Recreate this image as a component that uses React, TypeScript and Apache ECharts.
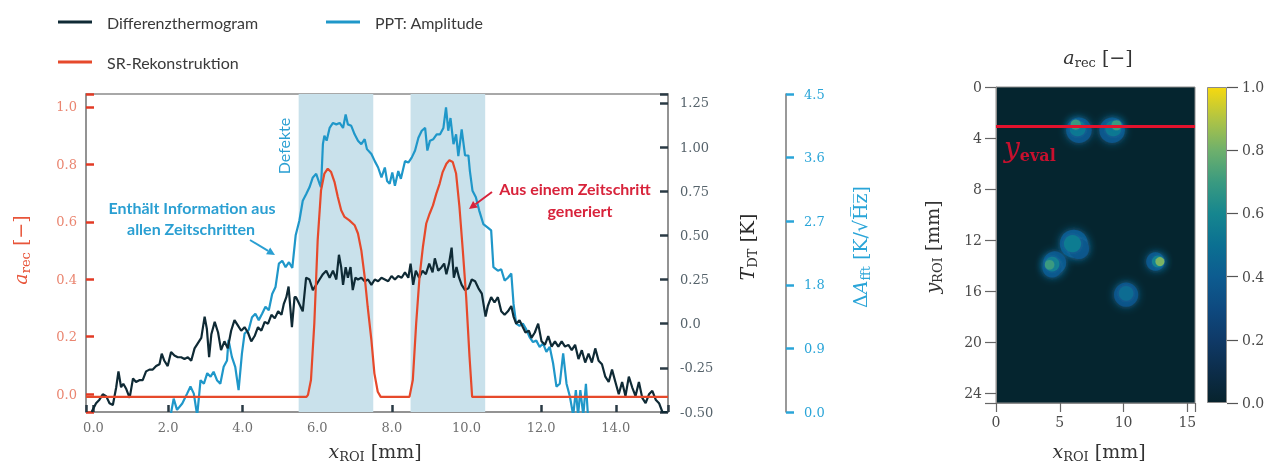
import React, { useEffect, useRef } from 'react';
import * as echarts from 'echarts';

// ---------- Data ----------
// Differenzthermogram (T_DT [K])
const dtX = [-0.05, 0.07, 0.16, 0.25, 0.34, 0.43, 0.52, 0.61, 0.67, 0.74, 0.80, 0.88, 0.97, 1.06, 1.14, 1.23, 1.32, 1.41, 1.50, 1.59, 1.68, 1.77, 1.83, 1.90, 1.99, 2.08, 2.17, 2.26, 2.35, 2.44, 2.53, 2.62, 2.71, 2.80, 2.89, 2.98, 3.04, 3.10, 3.16, 3.25, 3.34, 3.42, 3.51, 3.60, 3.69, 3.78, 3.87, 3.96, 4.05, 4.14, 4.23, 4.32, 4.41, 4.50, 4.59, 4.68, 4.77, 4.86, 4.95, 5.04, 5.10, 5.17, 5.23, 5.32, 5.39, 5.43, 5.52, 5.61, 5.70, 5.79, 5.88, 5.97, 6.06, 6.15, 6.24, 6.33, 6.42, 6.51, 6.58, 6.64, 6.69, 6.76, 6.82, 6.89, 6.95, 7.02, 7.09, 7.18, 7.27, 7.36, 7.45, 7.54, 7.63, 7.72, 7.81, 7.90, 7.99, 8.08, 8.17, 8.26, 8.35, 8.44, 8.50, 8.57, 8.64, 8.73, 8.82, 8.91, 9.00, 9.09, 9.15, 9.24, 9.33, 9.40, 9.46, 9.53, 9.60, 9.66, 9.73, 9.80, 9.87, 9.96, 10.05, 10.14, 10.23, 10.32, 10.41, 10.51, 10.57, 10.66, 10.75, 10.84, 10.93, 11.02, 11.11, 11.20, 11.26, 11.33, 11.42, 11.51, 11.58, 11.67, 11.74, 11.83, 11.92, 12.01, 12.10, 12.19, 12.28, 12.37, 12.46, 12.55, 12.64, 12.73, 12.82, 12.91, 13.00, 13.09, 13.18, 13.27, 13.36, 13.45, 13.54, 13.63, 13.72, 13.81, 13.90, 13.99, 14.08, 14.17, 14.26, 14.35, 14.44, 14.53, 14.62, 14.71, 14.80, 14.89, 14.98, 15.07, 15.16, 15.25, 15.38];
const dtY = [-0.50, -0.45, -0.43, -0.40, -0.41, -0.45, -0.46, -0.36, -0.27, -0.36, -0.34, -0.37, -0.42, -0.31, -0.33, -0.32, -0.32, -0.27, -0.26, -0.26, -0.24, -0.23, -0.17, -0.21, -0.24, -0.16, -0.18, -0.19, -0.19, -0.20, -0.19, -0.21, -0.14, -0.11, -0.08, 0.04, -0.03, -0.19, -0.06, 0.01, -0.05, -0.15, -0.10, -0.14, -0.04, 0.02, -0.01, -0.04, -0.02, -0.05, -0.10, -0.07, -0.02, -0.04, 0.01, 0.00, 0.05, 0.03, 0.07, 0.05, 0.11, 0.15, 0.21, -0.02, 0.15, 0.15, 0.11, 0.07, 0.26, 0.25, 0.19, 0.22, 0.25, 0.28, 0.30, 0.26, 0.30, 0.25, 0.39, 0.32, 0.22, 0.32, 0.26, 0.32, 0.19, 0.26, 0.25, 0.26, 0.24, 0.25, 0.22, 0.25, 0.24, 0.26, 0.25, 0.24, 0.27, 0.25, 0.27, 0.26, 0.29, 0.26, 0.34, 0.22, 0.30, 0.26, 0.30, 0.28, 0.34, 0.29, 0.37, 0.30, 0.32, 0.34, 0.28, 0.34, 0.43, 0.26, 0.32, 0.26, 0.22, 0.19, 0.20, 0.25, 0.24, 0.20, 0.17, 0.04, 0.10, 0.15, 0.12, 0.15, 0.07, 0.05, 0.07, 0.10, 0.04, 0.00, 0.02, -0.02, -0.05, -0.04, -0.08, -0.05, 0.00, -0.10, -0.12, -0.07, -0.13, -0.10, -0.13, -0.10, -0.13, -0.12, -0.15, -0.12, -0.20, -0.15, -0.22, -0.17, -0.22, -0.14, -0.21, -0.23, -0.30, -0.33, -0.26, -0.33, -0.40, -0.33, -0.41, -0.30, -0.36, -0.41, -0.33, -0.42, -0.45, -0.40, -0.38, -0.43, -0.45, -0.50, -0.50];

// PPT: Amplitude (ΔA_fft [K/√Hz])
const pptX = [2.05, 2.15, 2.24, 2.38, 2.51, 2.60, 2.69, 2.78, 2.87, 2.96, 3.05, 3.14, 3.22, 3.31, 3.40, 3.49, 3.58, 3.62, 3.71, 3.80, 3.89, 3.98, 4.05, 4.16, 4.25, 4.34, 4.43, 4.52, 4.61, 4.70, 4.79, 4.88, 4.97, 5.06, 5.15, 5.24, 5.33, 5.42, 5.52, 5.61, 5.70, 5.79, 5.88, 5.97, 6.06, 6.10, 6.15, 6.19, 6.25, 6.33, 6.42, 6.51, 6.60, 6.69, 6.76, 6.82, 6.91, 7.00, 7.09, 7.18, 7.27, 7.33, 7.45, 7.54, 7.63, 7.72, 7.81, 7.87, 7.94, 8.01, 8.08, 8.17, 8.24, 8.35, 8.44, 8.53, 8.62, 8.71, 8.80, 8.89, 8.95, 9.02, 9.11, 9.20, 9.29, 9.38, 9.45, 9.51, 9.57, 9.65, 9.72, 9.78, 9.87, 9.96, 10.05, 10.09, 10.16, 10.25, 10.34, 10.45, 10.57, 10.66, 10.72, 10.84, 10.93, 11.02, 11.11, 11.20, 11.26, 11.33, 11.42, 11.51, 11.60, 11.69, 11.78, 11.87, 11.96, 12.05, 12.14, 12.23, 12.32, 12.41, 12.50, 12.59, 12.68, 12.77, 12.86, 12.93, 12.99, 13.05, 13.13, 13.20, 13.26];
const pptY = [-0.10, 0.19, 0.03, 0.12, 0.26, 0.36, 0.26, -0.05, 0.45, 0.40, 0.55, 0.50, 0.57, 0.45, 0.40, 0.64, 0.73, 1.02, 0.78, 0.64, 0.31, 0.83, 1.11, 1.16, 1.34, 1.39, 1.30, 1.39, 1.49, 1.44, 1.67, 1.77, 2.10, 2.14, 2.05, 2.12, 2.04, 2.50, 2.71, 2.99, 3.08, 3.18, 3.32, 3.37, 3.23, 3.18, 3.79, 3.91, 3.84, 4.02, 4.09, 4.07, 4.09, 4.02, 4.21, 4.07, 4.05, 3.93, 3.84, 3.79, 3.86, 3.72, 3.65, 3.55, 3.46, 3.32, 3.46, 3.27, 3.23, 3.39, 3.20, 3.41, 3.30, 3.55, 3.53, 3.60, 3.70, 3.88, 3.98, 4.02, 3.70, 3.84, 3.86, 3.93, 3.93, 4.02, 4.31, 3.98, 4.16, 3.79, 3.93, 3.62, 4.00, 3.63, 3.63, 3.41, 3.13, 3.04, 2.85, 2.66, 2.61, 2.57, 2.05, 2.00, 2.02, 1.86, 1.90, 1.96, 1.53, 1.25, 1.22, 1.25, 1.17, 1.06, 0.99, 1.01, 0.92, 0.97, 0.85, 0.92, 0.69, 0.36, 0.40, 0.83, 0.40, 0.22, -0.05, 0.31, -0.05, 0.31, -0.05, 0.40, -0.10];

// SR-Rekonstruktion (a_rec [−])
const srX = [-0.2, 5.71, 5.75, 5.83, 5.92, 6.01, 6.10, 6.19, 6.28, 6.37, 6.46, 6.55, 6.64, 6.73, 6.86, 7.00, 7.09, 7.18, 7.27, 7.35, 7.45, 7.53, 7.62, 7.70, 8.47, 8.56, 8.65, 8.74, 8.83, 8.92, 9.01, 9.10, 9.19, 9.28, 9.36, 9.46, 9.54, 9.63, 9.72, 9.81, 9.90, 9.99, 10.08, 10.15, 15.4];
const srY = [-0.01, -0.01, -0.003, 0.049, 0.246, 0.536, 0.71, 0.768, 0.785, 0.773, 0.739, 0.686, 0.64, 0.617, 0.605, 0.588, 0.559, 0.50, 0.408, 0.304, 0.188, 0.072, 0.008, -0.01, -0.01, 0.049, 0.246, 0.408, 0.512, 0.594, 0.628, 0.657, 0.698, 0.733, 0.773, 0.802, 0.814, 0.808, 0.768, 0.652, 0.50, 0.338, 0.13, -0.01, -0.01];

// Defect regions (x_ROI [mm])
const defectStart = [5.5, 8.5];
const defectEnd = [7.5, 10.5];

// Reconstruction map: blobs (x mm, y mm, a_rec value, diameter mm)
const blobX = [6.5, 9.1, 6.1, 6.5, 4.6, 4.4, 12.5, 10.2, 6.4, 9.2, 6.0, 4.4, 12.7, 10.2, 6.25, 9.45, 4.2, 12.85];
const blobY = [3.4, 3.4, 12.3, 12.7, 13.8, 14.2, 13.7, 16.3, 3.25, 3.25, 12.3, 13.9, 13.7, 16.2, 2.95, 3.0, 13.95, 13.7];
const blobV = [0.36, 0.36, 0.38, 0.36, 0.36, 0.36, 0.36, 0.34, 0.54, 0.54, 0.55, 0.58, 0.6, 0.48, 0.7, 0.7, 0.7, 0.82];
const blobD = [2.0, 2.0, 2.2, 1.6, 1.8, 1.5, 1.45, 1.9, 1.25, 1.25, 1.35, 1.15, 0.95, 1.15, 0.8, 0.8, 0.75, 0.7];
const yEval = 3.1;

// Colormap
const cmapStops = [0, 0.1, 0.2, 0.3, 0.4, 0.5, 0.6, 0.7, 0.8, 0.9, 1.0];
const cmapColors = ['#07232d', '#0c2d4a', '#0f3a68', '#0e4a80', '#0d5c90', '#0b7092', '#16868f', '#3a9a80', '#6eb06c', '#b0c444', '#f6d90f'];

// Colors
const C_DT = '#0f2a35';
const C_PPT = '#1f97c9';
const C_SR = '#e6492b';
const C_DEF = '#c9e1eb';
const C_BLUE_TXT = '#2a9fd2';
const C_RED_TXT = '#d8233b';
const SERIF = "'DejaVu Serif', serif";
const SANS = "Lato, 'Open Sans', sans-serif";

const isMult = (v: number, step: number) => Math.abs(v / step - Math.round(v / step)) < 1e-6;

function arrow(x1: number, y1: number, x2: number, y2: number, color: string) {
  const dx = x2 - x1, dy = y2 - y1;
  const L = Math.sqrt(dx * dx + dy * dy);
  const ux = dx / L, uy = dy / L;
  const hl = 8, hw = 4;
  const bx = x2 - ux * hl, by = y2 - uy * hl;
  return [
    { type: 'line', silent: true, z: 100, shape: { x1, y1, x2: bx, y2: by }, style: { stroke: color, lineWidth: 2 } },
    { type: 'polygon', silent: true, z: 100, shape: { points: [[x2, y2], [bx - uy * hw, by + ux * hw], [bx + uy * hw, by - ux * hw]] }, style: { fill: color } },
  ];
}

function rtext(x: number, y: number, text: string, rich: any, rotation = 0, align = 'center') {
  return { type: 'text', silent: true, z: 100, x, y, rotation, style: { text, rich, align, verticalAlign: 'middle' } };
}

function axisRich(color: string, main = 19, sub = 13) {
  return {
    i: { fontFamily: SERIF, fontStyle: 'italic', fontSize: main, lineHeight: 24, fill: color, verticalAlign: 'middle' },
    s: { fontFamily: SERIF, fontSize: sub, lineHeight: 13, fill: color, verticalAlign: 'bottom' },
    n: { fontFamily: SERIF, fontSize: main, lineHeight: 24, fill: color, verticalAlign: 'middle' },
  };
}

function plainText(x: number, y: number, text: string, font: string, fill: string, rotation = 0) {
  return { type: 'text', silent: true, z: 100, x, y, rotation, style: { text, font, fill, align: 'center', verticalAlign: 'middle' } };
}

export default function App() {
  const ref = useRef<HTMLDivElement>(null);
  useEffect(() => {
    const chart = echarts.init(ref.current!, null, { renderer: 'svg' });
    const mmPx = 316 / 24.8;
    const grad = new echarts.graphic.LinearGradient(0, 1, 0, 0, cmapStops.map((s, i) => ({ offset: s, color: cmapColors[i] })));
    const legendText = { fontFamily: SANS, fontSize: 16, color: '#3a3a3a', padding: [0, 0, 0, 10] };
    const legendCommon = { icon: 'rect', itemWidth: 34, itemHeight: 3, selectedMode: false, textStyle: legendText };

    const option: any = {
      animation: false,
      textStyle: { fontFamily: SERIF },
      legend: [
        { ...legendCommon, data: ['Differenzthermogram'], left: 53, top: 9 },
        { ...legendCommon, data: ['PPT: Amplitude'], left: 321, top: 9 },
        { ...legendCommon, data: ['SR-Rekonstruktion'], left: 53, top: 49 },
      ],
      grid: [
        { left: 86, top: 94, width: 582, height: 318, show: true, borderColor: '#8c8c8c', borderWidth: 1.5, backgroundColor: 'transparent' },
        { left: 996, top: 87, width: 199, height: 316, show: true, borderColor: '#8c8c8c', borderWidth: 1, backgroundColor: '#05252f' },
        { left: 1207, top: 87, width: 20, height: 316 },
      ],
      xAxis: [
        {
          type: 'value', gridIndex: 0, min: -0.2, max: 15.4, splitNumber: 8,
          axisLine: { show: true, onZero: false, lineStyle: { color: '#8c8c8c', width: 1.5 } },
          axisTick: { show: true, inside: true, length: 7, lineStyle: { color: '#2a3a44', width: 2.5 } },
          axisLabel: { margin: 9, color: '#707070', fontSize: 13, fontFamily: SERIF, formatter: (v: number) => (isMult(v, 2) ? v.toFixed(1) : '') },
          splitLine: { show: false },
        },
        {
          type: 'value', gridIndex: 1, min: 0, max: 15.6, interval: 5,
          axisLine: { show: true, onZero: false, lineStyle: { color: '#8c8c8c', width: 1 } },
          axisTick: { show: true, inside: false, length: 9, lineStyle: { color: '#666', width: 1.2 } },
          axisLabel: { margin: 12, color: '#4a4a4a', fontSize: 14, fontFamily: SERIF, formatter: (v: number) => (isMult(v, 5) ? String(Math.round(v)) : '') },
          splitLine: { show: false },
        },
        { type: 'category', gridIndex: 2, data: ['c'], show: false, boundaryGap: true },
      ],
      yAxis: [
        {
          type: 'value', gridIndex: 0, position: 'left', min: -0.0626, max: 1.045, splitNumber: 5,
          axisLine: { show: true, onZero: false, lineStyle: { color: '#8c8c8c', width: 1.5 } },
          axisTick: { show: true, inside: true, length: 8, lineStyle: { color: '#e23a24', width: 2.5 } },
          axisLabel: { margin: 9, color: '#ea8570', fontSize: 13, fontFamily: SERIF, formatter: (v: number) => (isMult(v, 0.2) && v > -0.01 ? v.toFixed(1) : '') },
          splitLine: { show: false },
        },
        {
          type: 'value', gridIndex: 0, position: 'right', min: -0.5, max: 1.3, interval: 0.25,
          axisLine: { show: true, onZero: false, lineStyle: { color: '#8c8c8c', width: 1.5 } },
          axisTick: { show: true, inside: true, length: 8, lineStyle: { color: '#2a3a44', width: 2.5 } },
          axisLabel: { margin: 12, color: '#56636b', fontSize: 13, fontFamily: SERIF, formatter: (v: number) => (Math.abs(v) < 1e-9 ? '0.0' : isMult(v, 0.25) && v < 1.26 ? v.toFixed(2) : '') },
          splitLine: { show: false },
        },
        {
          type: 'value', gridIndex: 0, position: 'right', offset: 118, min: 0, max: 4.5, interval: 0.9,
          axisLine: { show: true, onZero: false, lineStyle: { color: '#777', width: 1.5 } },
          axisTick: { show: true, inside: false, length: 8, lineStyle: { color: '#2aa5d8', width: 2.5 } },
          axisLabel: { margin: 18, color: '#2aa5d8', fontSize: 13, fontFamily: SERIF, formatter: (v: number) => v.toFixed(1) },
          splitLine: { show: false },
        },
        {
          type: 'value', gridIndex: 1, inverse: true, min: 0, max: 24.8, interval: 4,
          axisLine: { show: true, onZero: false, lineStyle: { color: '#8c8c8c', width: 1 } },
          axisTick: { show: true, inside: false, length: 11, lineStyle: { color: '#666', width: 1.2 } },
          axisLabel: { margin: 14, color: '#4a4a4a', fontSize: 14, fontFamily: SERIF, formatter: (v: number) => (isMult(v, 4) ? String(Math.round(v)) : '') },
          splitLine: { show: false },
        },
        {
          type: 'value', gridIndex: 2, position: 'right', min: 0, max: 1, interval: 0.2,
          axisLine: { show: false, onZero: false },
          axisTick: { show: true, inside: false, length: 11, lineStyle: { color: '#555', width: 1.2 } },
          axisLabel: { margin: 15, color: '#4a4a4a', fontSize: 14, fontFamily: SERIF, formatter: (v: number) => v.toFixed(1) },
          splitLine: { show: false },
        },
      ],
      visualMap: [
        { show: false, type: 'continuous', min: 0, max: 1, dimension: 2, seriesIndex: 3, inRange: { color: cmapColors } },
      ],
      series: [
        {
          name: 'Differenzthermogram', type: 'line', xAxisIndex: 0, yAxisIndex: 1, z: 4, silent: true,
          data: dtX.map((x, i) => [x, dtY[i]]), showSymbol: false, symbol: 'none',
          lineStyle: { color: C_DT, width: 2.2 }, itemStyle: { color: C_DT },
        },
        {
          name: 'PPT: Amplitude', type: 'line', xAxisIndex: 0, yAxisIndex: 2, z: 3, silent: true,
          data: pptX.map((x, i) => [x, pptY[i]]), showSymbol: false, symbol: 'none',
          lineStyle: { color: C_PPT, width: 2.2 }, itemStyle: { color: C_PPT },
        },
        {
          name: 'SR-Rekonstruktion', type: 'line', xAxisIndex: 0, yAxisIndex: 0, z: 5, silent: true,
          data: srX.map((x, i) => [x, srY[i]]), showSymbol: false, symbol: 'none',
          lineStyle: { color: C_SR, width: 2.2 }, itemStyle: { color: C_SR },
          markArea: {
            silent: true, z: 1,
            itemStyle: { color: C_DEF, opacity: 1 },
            data: defectStart.map((s, i) => [{ xAxis: s }, { xAxis: defectEnd[i] }]),
          },
        },
        {
          name: 'map', type: 'scatter', xAxisIndex: 1, yAxisIndex: 3, silent: true, clip: true,
          data: blobX.map((x, i) => [x, blobY[i], blobV[i], blobD[i]]),
          symbolSize: (v: number[]) => v[3] * mmPx,
          itemStyle: { opacity: 1, shadowBlur: 8, shadowColor: 'rgba(25,110,160,0.8)' },
          markLine: {
            silent: true, symbol: 'none', label: { show: false },
            lineStyle: { color: '#e3122d', width: 3, type: 'solid' },
            data: [{ yAxis: yEval }],
          },
        },
        {
          name: 'colorbar', type: 'bar', xAxisIndex: 2, yAxisIndex: 4, silent: true, barWidth: '100%',
          data: [1], itemStyle: { color: grad, borderColor: '#8a8a8a', borderWidth: 1 },
        },
      ],
      graphic: [
        // axis names
        rtext(20, 250, '{i|a}{s|rec}{n| [−]}', axisRich('#e8553a'), Math.PI / 2),
        rtext(747, 247, '{i|T}{s|DT}{n| [K]}', axisRich('#2a2a2a'), Math.PI / 2),
        rtext(860, 247, '{n|Δ}{i|A}{s|fft}{n| [K/√H̅z̅]}', axisRich('#2aa5d8'), Math.PI / 2),
        rtext(375, 451, '{i|x}{s|ROI}{n| [mm]}', axisRich('#333')),
        rtext(1099, 451, '{i|x}{s|ROI}{n| [mm]}', axisRich('#333')),
        rtext(932, 247, '{i|y}{s|ROI}{n| [mm]}', axisRich('#333'), Math.PI / 2),
        rtext(1098, 57, '{i|a}{s|rec}{n| [−]}', axisRich('#333')),
        rtext(1004, 147, '{i|y}{s|eval}', {
          i: { fontFamily: SERIF, fontStyle: 'italic', fontSize: 28, lineHeight: 32, fill: '#c8102e', verticalAlign: 'middle' },
          s: { fontFamily: SERIF, fontWeight: 'bold', fontSize: 16, lineHeight: 16, fill: '#c8102e', verticalAlign: 'bottom' },
        }, 0, 'left'),
        // annotations
        plainText(283, 146, 'Defekte', `16px ${SANS}`, C_BLUE_TXT, Math.PI / 2),
        plainText(192, 207, 'Enthält Information aus', `bold 16px ${SANS}`, C_BLUE_TXT),
        plainText(191, 228, 'allen Zeitschritten', `bold 16px ${SANS}`, C_BLUE_TXT),
        plainText(575, 188, 'Aus einem Zeitschritt', `bold 16px ${SANS}`, C_RED_TXT),
        plainText(580, 210, 'generiert', `bold 16px ${SANS}`, C_RED_TXT),
        ...arrow(250, 240, 275, 255, C_BLUE_TXT),
        ...arrow(492, 192, 469, 209, C_RED_TXT),
      ],
    };
    chart.setOption(option);
    return () => chart.dispose();
  }, []);
  return <div ref={ref} style={{ position: 'fixed', left: 0, top: 0, width: 1281, height: 466 }} />;
}
